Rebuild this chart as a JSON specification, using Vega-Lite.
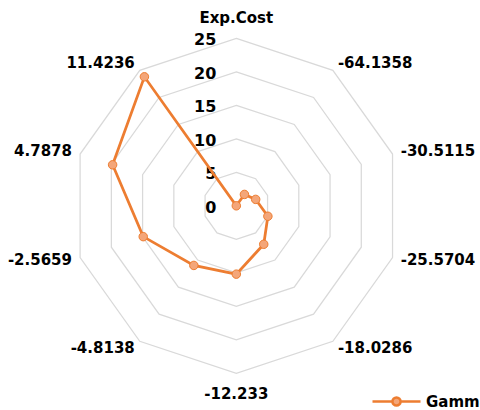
{
  "$schema": "https://vega.github.io/schema/vega-lite/v6.json",
  "width": 480,
  "height": 410,
  "padding": 0,
  "autosize": {"type": "none"},
  "config": {
    "view": {"stroke": null},
    "text": {"font": "DejaVu Sans", "fontWeight": "bold", "fontSize": 15, "color": "#000000"}
  },
  "datasets": {
    "gamma": [
      {"k": 0, "cat": "Exp.Cost", "value": 0, "series": "Gamma"},
      {"k": 1, "cat": "-64.1358", "value": 2.1, "series": "Gamma"},
      {"k": 2, "cat": "-30.5115", "value": 3.1, "series": "Gamma"},
      {"k": 3, "cat": "-25.5704", "value": 5.05, "series": "Gamma"},
      {"k": 4, "cat": "-18.0286", "value": 7.1, "series": "Gamma"},
      {"k": 5, "cat": "-12.233", "value": 10.2, "series": "Gamma"},
      {"k": 6, "cat": "-4.8138", "value": 11.0, "series": "Gamma"},
      {"k": 7, "cat": "-2.5659", "value": 14.9, "series": "Gamma"},
      {"k": 8, "cat": "4.7878", "value": 19.8, "series": "Gamma"},
      {"k": 9, "cat": "11.4236", "value": 23.8, "series": "Gamma"}
    ],
    "rings": [
      {"level": 5, "k": [0, 1, 2, 3, 4, 5, 6, 7, 8, 9]},
      {"level": 10, "k": [0, 1, 2, 3, 4, 5, 6, 7, 8, 9]},
      {"level": 15, "k": [0, 1, 2, 3, 4, 5, 6, 7, 8, 9]},
      {"level": 20, "k": [0, 1, 2, 3, 4, 5, 6, 7, 8, 9]},
      {"level": 25, "k": [0, 1, 2, 3, 4, 5, 6, 7, 8, 9]}
    ],
    "ticks": [
      {"level": 0}, {"level": 5}, {"level": 10}, {"level": 15}, {"level": 20}, {"level": 25}
    ]
  },
  "layer": [
    {
      "data": {"name": "rings"},
      "transform": [
        {"flatten": ["k"]},
        {"calculate": "datum.level * sin(datum.k * PI / 5)", "as": "px"},
        {"calculate": "datum.level * cos(datum.k * PI / 5)", "as": "py"}
      ],
      "mark": {"type": "line", "interpolate": "linear-closed", "stroke": "#D9D9D9", "strokeWidth": 1.25},
      "encoding": {
        "x": {"field": "px", "type": "quantitative", "scale": {"domain": [-35.97, 37.09], "nice": false, "zero": false}, "axis": null},
        "y": {"field": "py", "type": "quantitative", "scale": {"domain": [-30.48, 30.72], "nice": false, "zero": false}, "axis": null},
        "detail": {"field": "level", "type": "nominal"},
        "order": {"field": "k", "type": "quantitative"}
      }
    },
    {
      "data": {"name": "ticks"},
      "transform": [{"calculate": "0", "as": "px"}],
      "mark": {"type": "text", "align": "right", "baseline": "middle", "dx": -20, "dy": 2, "fontSize": 16},
      "encoding": {
        "x": {"field": "px", "type": "quantitative"},
        "y": {"field": "level", "type": "quantitative"},
        "text": {"field": "level", "type": "quantitative"}
      }
    },
    {
      "data": {"name": "gamma"},
      "transform": [
        {"calculate": "datum.value * sin(datum.k * PI / 5)", "as": "px"},
        {"calculate": "datum.value * cos(datum.k * PI / 5)", "as": "py"}
      ],
      "layer": [
        {
          "mark": {"type": "line", "interpolate": "linear-closed", "strokeWidth": 2.75},
          "encoding": {
            "x": {"field": "px", "type": "quantitative"},
            "y": {"field": "py", "type": "quantitative"},
            "order": {"field": "k", "type": "quantitative"},
            "color": {
              "field": "series",
              "type": "nominal",
              "scale": {"range": ["#ED7D31"]},
              "legend": {
                "title": null,
                "orient": "none",
                "legendX": 371,
                "legendY": 376,
                "padding": 0,
                "symbolType": "M-1,0L-0.17,0M0.17,0L1,0M-0.17,0A0.17,0.17,0,1,1,0.17,0A0.17,0.17,0,1,1,-0.17,0Z",
                "symbolSize": 2304,
                "symbolStrokeWidth": 2,
                "labelFont": "DejaVu Sans",
                "labelFontWeight": "bold",
                "labelFontSize": 15,
                "labelColor": "#000000",
                "labelLimit": 300,
                "labelOffset": 4,
                "encode": {
                  "symbols": {
                    "update": {
                      "fill": {"value": "#F4A679"},
                      "stroke": {"value": "#ED7D31"},
                      "strokeWidth": {"value": 2.5},
                      "opacity": {"value": 1}
                    }
                  }
                }
              }
            }
          }
        },
        {
          "mark": {"type": "point", "shape": "circle", "filled": true, "size": 72, "fill": "#F4A679", "stroke": "#ED7D31", "strokeWidth": 1, "opacity": 1},
          "encoding": {
            "x": {"field": "px", "type": "quantitative"},
            "y": {"field": "py", "type": "quantitative"}
          }
        }
      ]
    },
    {
      "data": {"name": "gamma"},
      "transform": [
        {"calculate": "(datum.k == 0 || datum.k == 5) ? 28.1 : 26.3", "as": "lr"},
        {"calculate": "datum.lr * sin(datum.k * PI / 5)", "as": "lx"},
        {"calculate": "datum.lr * cos(datum.k * PI / 5)", "as": "ly"}
      ],
      "layer": [
        {
          "transform": [{"filter": "datum.k == 0 || datum.k == 5"}],
          "mark": {"type": "text", "align": "center", "baseline": "middle"},
          "encoding": {
            "x": {"field": "lx", "type": "quantitative"},
            "y": {"field": "ly", "type": "quantitative"},
            "text": {"field": "cat", "type": "nominal"}
          }
        },
        {
          "transform": [{"filter": "datum.k > 0 && datum.k < 5"}],
          "mark": {"type": "text", "align": "left", "baseline": "middle"},
          "encoding": {
            "x": {"field": "lx", "type": "quantitative"},
            "y": {"field": "ly", "type": "quantitative"},
            "text": {"field": "cat", "type": "nominal"}
          }
        },
        {
          "transform": [{"filter": "datum.k > 5"}],
          "mark": {"type": "text", "align": "right", "baseline": "middle"},
          "encoding": {
            "x": {"field": "lx", "type": "quantitative"},
            "y": {"field": "ly", "type": "quantitative"},
            "text": {"field": "cat", "type": "nominal"}
          }
        }
      ]
    }
  ]
}
